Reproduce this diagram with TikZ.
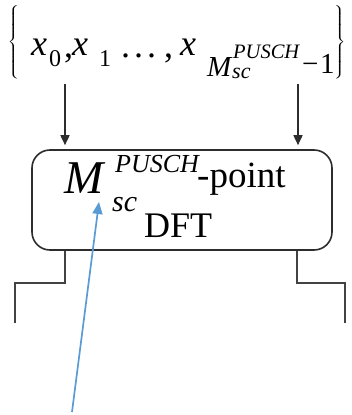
\RequirePackage{fix-cm}
\documentclass[tikz,border=0pt]{standalone}
\usepackage{graphicx}
\usepackage{fontspec}
\setmainfont{Liberation Serif}
\usetikzlibrary{arrows.meta}
\definecolor{ablue}{RGB}{91,155,213}
\definecolor{dline}{RGB}{45,45,45}
\newcommand{\fs}[1]{\fontsize{#1}{#1}\selectfont}
\tikzset{
  flow/.style={draw=dline,line width=1.6pt,-{Triangle[length=10pt,width=9pt]}},
  wire/.style={draw=dline!90,line width=2.2pt},
  dftbox/.style={draw=dline,line width=1.6pt,rounded corners=18pt,minimum width=300pt,minimum height=100pt,inner sep=0pt},
  pointer/.style={draw=ablue,line width=1.7pt,-{Triangle[length=12pt,width=10pt]}},
  txt/.style={inner sep=0pt,anchor=base west}
}
\begin{document}
\begin{tikzpicture}[x=1pt,y=-1pt]
\useasboundingbox (0,0) rectangle (352,415);
% sequence
\node[inner sep=0pt] (lb) at (14,42.5) {\resizebox*{13pt}{75pt}{$\left\{\vrule height 37.5pt depth 37.5pt width 0pt\right.$}};
\node[inner sep=0pt] (rb) at (339,42.5) {\resizebox*{13pt}{75pt}{$\left.\vrule height 37.5pt depth 37.5pt width 0pt\right\}$}};
\node[txt] (x0) at (31,55) {\fs{36}\itshape x};
\node[txt] (s0) at (49,66) {\fs{24}0};
\node[txt] (c1) at (64,57) {\fs{36},};
\node[txt] (x1) at (72,55) {\fs{36}\itshape x};
\node[txt] (s1) at (99,66) {\fs{24}1};
\node[txt] (dots) at (121,57) {\fs{36}.\kern4pt.\kern4pt.};
\node[txt] (c2) at (164,57) {\fs{36},};
\node[txt] (x2) at (180,55) {\fs{36}\itshape x};
\node[txt] (mt) at (207,76) {\fs{29}\itshape M};
\node[txt] (pt) at (233,58) {\fs{20.5}\itshape PUSCH};
\node[txt] (st) at (232,78) {\fs{22}\itshape sc};
\node[txt] (mi) at (302,73) {\fs{29}\char"2212};
\node[txt] (one) at (320,73) {\fs{29}1};
% DFT block
\node[dftbox] (dft) at (182,200) {};
\node[txt] (mb) at (64,193) {\fs{47}\itshape M};
\node[txt] (pb) at (115,172) {\fs{26}\itshape PUSCH};
\node[txt] (sb) at (112,211) {\fs{30}\itshape sc};
\node[txt] (pnt) at (197,187) {\fs{37}-point};
\node[txt] (dfttxt) at (144,237) {\fs{36}DFT};
% arrows into block
\coordinate (a1) at (65,84);
\coordinate (a2) at (298,84);
\draw[flow,shorten >=4pt] (a1) -- (a1 |- dft.north);
\draw[flow,shorten >=4pt] (a2) -- (a2 |- dft.north);
% outputs
\coordinate (l1) at (65,283);
\coordinate (l2) at (15,283);
\coordinate (l3) at (15,323);
\coordinate (r1) at (297,283);
\coordinate (r2) at (345,283);
\coordinate (r3) at (345,323);
\draw[wire] (l1 |- dft.south) -- (l1) -- (l2) -- (l3);
\draw[wire] (r1 |- dft.south) -- (r1) -- (r2) -- (r3);
% pointer
\coordinate (p0) at (72,412);
\coordinate (p1) at (99,202);
\draw[pointer] (p0) -- (p1);
\end{tikzpicture}
\end{document}
